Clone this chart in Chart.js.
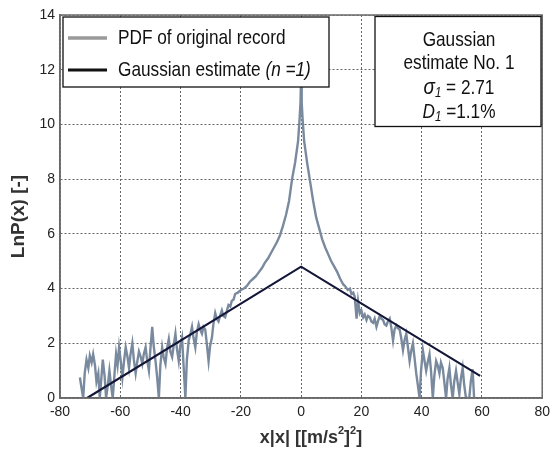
<!DOCTYPE html>
<html><head><meta charset="utf-8">
<script src="https://cdn.jsdelivr.net/npm/chart.js@4.4.0/dist/chart.umd.min.js"></script>
<style>html,body{margin:0;padding:0;background:#fff;}#wrap{width:556px;height:452px;}</style>
</head><body><div id="wrap"><canvas id="c" width="556" height="452"></canvas></div>
<script>
// PDF of original record (x|x| vs LnP(x))
const pdfX = [-73.4,-72.9,-72.3,-71.8,-71.2,-70.6,-70.1,-69.5,-69.0,-68.4,-67.9,-67.3,-66.8,-66.3,-65.8,-65.2,-64.7,-64.1,-63.6,-63.0,-62.5,-61.9,-61.4,-60.9,-60.4,-59.8,-59.3,-58.7,-58.2,-57.6,-57.1,-56.6,-56.0,-55.5,-54.9,-54.4,-53.8,-53.2,-52.7,-52.2,-51.6,-51.1,-50.5,-50.0,-49.4,-48.9,-48.3,-47.8,-47.2,-46.7,-46.1,-45.6,-45.0,-44.5,-43.9,-43.4,-42.8,-42.3,-41.7,-41.2,-40.6,-40.1,-39.5,-39.0,-38.4,-37.9,-37.3,-36.8,-36.2,-35.7,-35.1,-34.6,-34.0,-33.5,-32.9,-32.4,-31.8,-31.3,-30.7,-30.2,-29.6,-29.1,-28.5,-28.0,-27.4,-26.9,-26.3,-25.8,-25.2,-24.6,-24.1,-23.5,-23.0,-22.4,-21.9,-21.0,-20.0,-19.0,-18.0,-17.0,-16.0,-15.0,-14.0,-13.0,-12.0,-11.0,-10.0,-9.0,-8.0,-7.0,-6.0,-5.0,-4.0,-3.0,-2.0,-1.0,-0.5,-0.2,0,0.2,0.5,1.0,2.0,3.0,4.0,5.0,6.0,7.0,8.0,9.0,10.0,11.0,12.0,13.0,14.0,14.5,15.5,16.2,16.7,17.3,17.8,18.4,18.9,19.5,20.0,20.6,21.1,21.7,22.2,22.8,23.3,23.9,24.4,25.0,25.5,26.1,26.6,27.2,27.7,28.3,28.8,29.4,29.9,30.5,31.0,31.6,32.1,32.7,33.2,33.8,34.3,34.9,35.4,36.0,36.5,37.1,37.6,38.2,38.7,39.3,39.8,40.4,40.9,41.5,42.0,42.6,43.1,43.7,44.2,44.8,45.3,45.9,46.4,47.0,47.5,48.1,48.6,49.2,49.7,50.3,50.8,51.4,51.9,52.5,53.0,53.6,54.1,54.7,55.2,55.8,56.3,56.9,57.4];
const pdfY = [0.75,0.4,0.0,0.9,1.4,1.1,1.55,1.3,1.6,1.2,0.6,0.9,0.0,0.7,1.4,0.8,0.0,0.5,1.0,0.4,0.0,0.9,1.6,1.2,1.85,1.3,0.75,1.4,1.85,1.5,1.1,1.6,2.0,1.4,0.9,1.3,1.7,1.5,1.25,1.6,1.85,1.4,1.0,1.8,2.6,1.9,1.35,0.8,0.0,1.2,1.85,1.5,1.25,1.8,2.15,1.7,1.5,1.9,2.35,1.8,1.35,1.9,2.2,1.2,0.0,1.4,2.1,2.3,2.6,2.2,1.85,2.4,2.7,2.5,2.35,2.6,2.5,2.0,1.35,1.9,2.2,2.7,3.1,2.9,2.8,3.0,3.2,3.0,2.95,3.2,3.4,3.35,3.55,3.6,3.8,3.85,3.95,4.0,4.1,4.25,4.35,4.45,4.6,4.75,4.95,5.1,5.3,5.5,5.7,5.95,6.3,6.7,7.2,8.0,8.6,9.4,10.2,10.8,11.8,10.8,10.2,9.4,8.6,7.9,7.2,6.6,6.2,5.8,5.5,5.25,5.0,4.8,4.6,4.35,4.15,4.1,3.95,4.0,3.8,3.85,3.7,2.9,3.55,3.1,3.2,2.95,3.05,2.85,3.0,2.95,2.8,2.75,2.9,2.6,2.8,3.0,2.9,2.85,2.7,2.65,2.8,2.9,2.6,2.1,2.5,2.65,2.55,2.5,2.2,1.75,2.1,2.35,1.9,1.35,1.7,2.0,1.5,0.9,0.5,0.0,1.0,1.75,1.4,1.0,1.3,1.6,1.0,0.0,0.8,1.35,1.2,0.9,1.3,1.1,0.6,0.0,0.7,1.1,0.5,0.0,0.6,1.0,0.6,0.15,0.7,1.1,0.5,0.0,0.0,0.0,0.6,1.05,0.0];
// Gaussian estimate (n = 1)
const gaussX = [-71, 0, 59.4];
const gaussY = [0, 4.8, 0.81];
// axes
const xTicks = [-80,-60,-40,-20,0,20,40,60,80];
const yTicks = [0,2,4,6,8,10,12,14];
const seriesNames = ['PDF of original record', 'Gaussian estimate'];

const SANS = '"Liberation Sans", Arial, sans-serif';
const SQ = 0.82; // horizontal squeeze to mimic a narrow face

const overlay = {
  id: 'overlay',
  afterDraw(chart) {
    const ctx = chart.ctx, a = chart.chartArea;
    // draws a run of text pieces starting at x (left), squeezed horizontally
    function run(parts, x, y, align) {
      let total = 0;
      parts.forEach(p => { ctx.font = p.f; total += ctx.measureText(p.t).width * SQ; });
      let cx = align === 'center' ? x - total / 2 : x;
      parts.forEach(p => {
        ctx.font = p.f;
        ctx.save();
        ctx.translate(cx, y + (p.dy || 0));
        ctx.scale(SQ, 1);
        ctx.textAlign = 'left'; ctx.textBaseline = 'middle';
        ctx.fillText(p.t, 0, 0);
        ctx.restore();
        cx += ctx.measureText(p.t).width * SQ;
      });
    }
    ctx.save();
    // plot frame
    ctx.strokeStyle = '#6a6a6a'; ctx.lineWidth = 1.5; ctx.setLineDash([]);
    ctx.strokeRect(a.left, a.top, a.right - a.left, a.bottom - a.top);

    // legend box
    const lx = a.left + 3, ly = a.top + 2, lw = 266, lh = 70;
    ctx.fillStyle = '#fff'; ctx.fillRect(lx, ly, lw, lh);
    ctx.strokeStyle = '#111'; ctx.lineWidth = 1.3; ctx.strokeRect(lx, ly, lw, lh);
    ctx.lineWidth = 3.5; ctx.strokeStyle = '#9a9a9a';
    ctx.beginPath(); ctx.moveTo(lx + 5, ly + 21); ctx.lineTo(lx + 44, ly + 21); ctx.stroke();
    ctx.lineWidth = 2.8; ctx.strokeStyle = '#111';
    ctx.beginPath(); ctx.moveTo(lx + 5, ly + 53); ctx.lineTo(lx + 44, ly + 53); ctx.stroke();
    ctx.fillStyle = '#111';
    run([{t: seriesNames[0], f: '21px ' + SANS}], lx + 55, ly + 21);
    run([{t: seriesNames[1] + ' ', f: '21px ' + SANS}, {t: '(n =1)', f: 'italic 21px ' + SANS}], lx + 55, ly + 53);

    // info box
    const bx = 375, by = a.top + 1.5, bw = 166, bh = 110;
    ctx.fillStyle = '#fff'; ctx.fillRect(bx, by, bw, bh);
    ctx.strokeStyle = '#111'; ctx.lineWidth = 1.3; ctx.strokeRect(bx, by, bw, bh);
    const cx = bx + bw / 2 + 1;
    ctx.fillStyle = '#111';
    run([{t: 'Gaussian', f: '21px ' + SANS}], cx, 40, 'center');
    run([{t: 'estimate No. 1', f: '21px ' + SANS}], cx, 63, 'center');
    run([{t: 'σ', f: 'italic 23px ' + SANS}, {t: '1', f: 'italic 14px ' + SANS, dy: 5}, {t: ' = 2.71', f: '21px ' + SANS}], cx, 88, 'center');
    run([{t: 'D', f: 'italic 21px ' + SANS}, {t: '1', f: 'italic 14px ' + SANS, dy: 5}, {t: ' =1.1%', f: '21px ' + SANS}], cx, 112, 'center');

    // axis titles
    ctx.fillStyle = '#333';
    ctx.save();
    ctx.translate(19, (a.top + a.bottom) / 2 + 10);
    ctx.rotate(-Math.PI / 2);
    ctx.textAlign = 'center'; ctx.textBaseline = 'middle'; ctx.font = 'bold 19px ' + SANS;
    ctx.fillText('LnP(x) [-]', 0, 0);
    ctx.restore();
    const xp = [{t: 'x|x| [[m/s', f: 'bold 18px ' + SANS}, {t: '2', f: 'bold 11px ' + SANS, dy: -7}, {t: ']', f: 'bold 18px ' + SANS}, {t: '2', f: 'bold 11px ' + SANS, dy: -7}, {t: ']', f: 'bold 18px ' + SANS}];
    let tot = 0; xp.forEach(p => { ctx.font = p.f; tot += ctx.measureText(p.t).width; });
    let x0 = 311 - tot / 2;
    ctx.textAlign = 'left'; ctx.textBaseline = 'middle';
    xp.forEach(p => { ctx.font = p.f; ctx.fillText(p.t, x0, 438 + (p.dy || 0)); x0 += ctx.measureText(p.t).width; });
    ctx.restore();
  }
};

new Chart(document.getElementById('c'), {
  type: 'scatter',
  data: {
    datasets: [
      {
        label: seriesNames[0],
        data: pdfX.map((v, i) => ({x: v, y: pdfY[i]})),
        showLine: true, borderColor: '#7a8a9e', borderWidth: 2.4, pointRadius: 0, tension: 0, clip: 0, order: 2
      },
      {
        label: seriesNames[1],
        data: gaussX.map((v, i) => ({x: v, y: gaussY[i]})),
        showLine: true, borderColor: '#141638', borderWidth: 2.2, pointRadius: 0, tension: 0, clip: 0, order: 1
      }
    ]
  },
  options: {
    responsive: false, animation: false, devicePixelRatio: 1,
    layout: {padding: {left: 0, top: 15, right: 11, bottom: 0}},
    plugins: {legend: {display: false}, tooltip: {enabled: false}, title: {display: false}},
    scales: {
      x: {
        type: 'linear', min: -80, max: 80,
        afterBuildTicks: s => { s.ticks = xTicks.map(v => ({value: v})); },
        afterFit: s => { s.height = 54; },
        grid: {color: '#666', lineWidth: 1, drawTicks: false},
        border: {display: true, color: '#6a6a6a', width: 1.5, dash: [2, 2]},
        ticks: {padding: 6, color: '#222', font: {family: SANS, size: 14}, maxRotation: 0, autoSkip: false}
      },
      y: {
        type: 'linear', min: 0, max: 14,
        afterBuildTicks: s => { s.ticks = yTicks.map(v => ({value: v})); },
        afterFit: s => { s.width = 60; },
        grid: {color: '#666', lineWidth: 1, drawTicks: false},
        border: {display: true, color: '#6a6a6a', width: 1.5, dash: [2, 2]},
        ticks: {padding: 5, color: '#222', font: {family: SANS, size: 14}, autoSkip: false}
      }
    }
  },
  plugins: [overlay]
});
</script>
</body></html>
